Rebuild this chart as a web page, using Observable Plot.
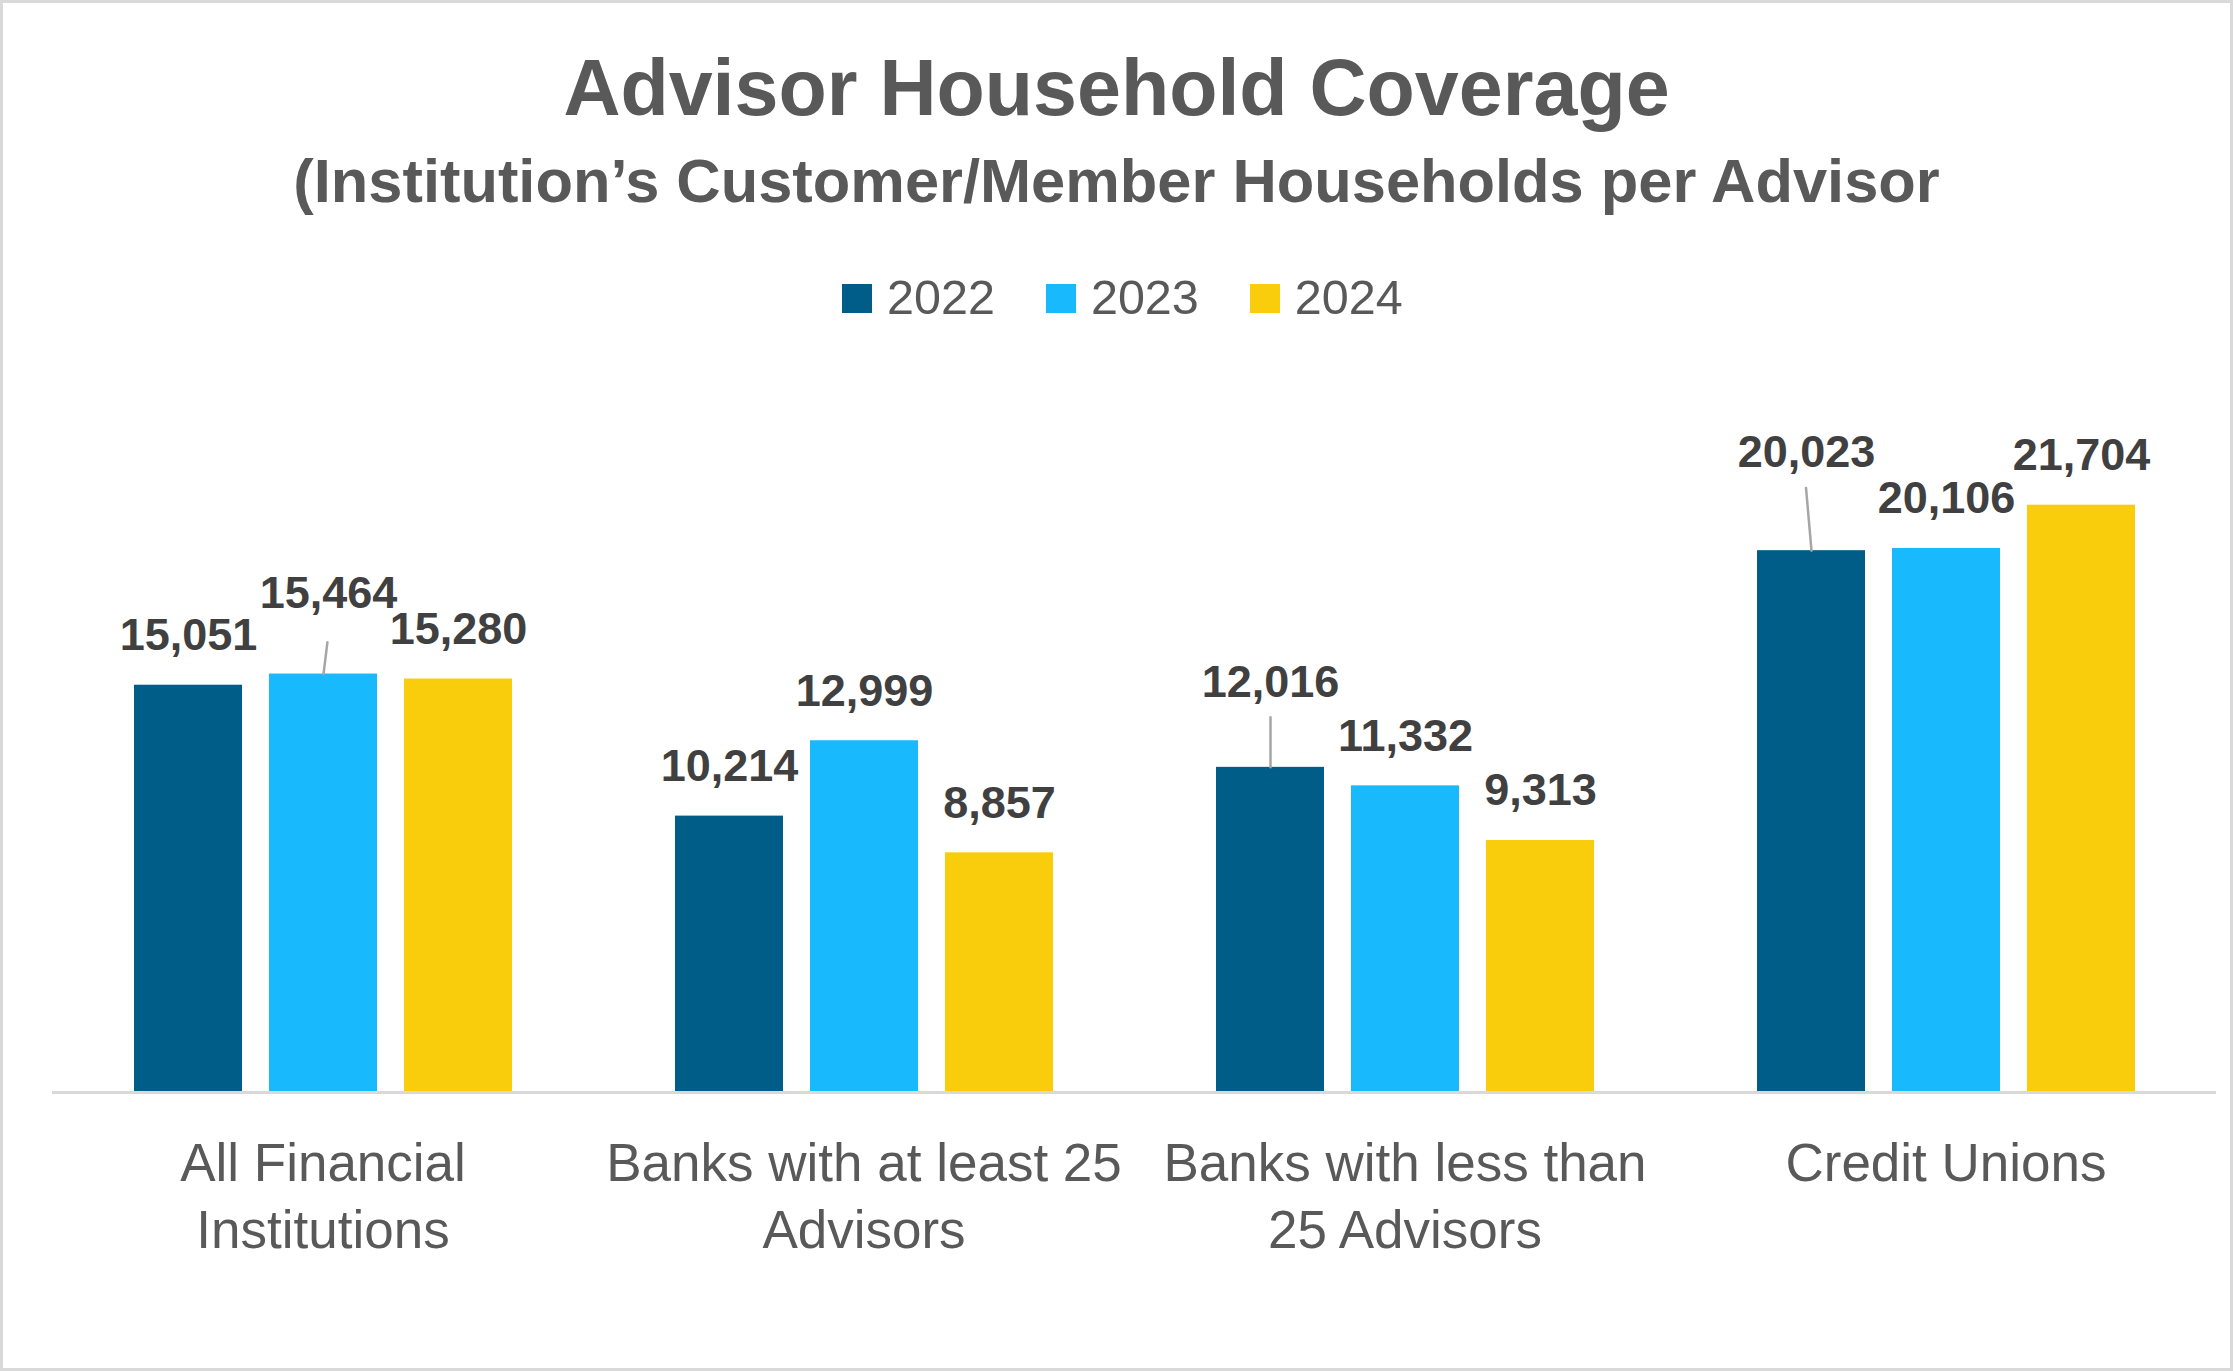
<!DOCTYPE html>
<html>
<head>
<meta charset="utf-8">
<script src="https://cdn.jsdelivr.net/npm/d3@7"></script>
<script src="https://cdn.jsdelivr.net/npm/@observablehq/plot@0.6"></script>
<style>
  html, body { margin: 0; padding: 0; background: #ffffff; }
  #page { position: relative; width: 2233px; height: 1371px; overflow: hidden; background: #ffffff;
          font-family: "Liberation Sans", Arial, sans-serif; }
  #border { position: absolute; left: 0; top: 0; width: 2233px; height: 1371px; box-sizing: border-box;
            border: 3px solid #d9d9d9; pointer-events: none; }
  .t { position: absolute; left: 0; width: 2233px; text-align: center; line-height: 1; color: #595959; white-space: nowrap; }
  #title { top: 48px; font-size: 79px; font-weight: bold; }
  #subtitle { top: 150px; font-size: 61.4px; font-weight: bold; }
  #legend { position: absolute; top: 273px; left: 842px; display: flex; gap: 51px; }
  .item { display: flex; align-items: flex-start; }
  .sw { width: 30px; height: 29px; margin-top: 11px; margin-right: 15px; }
  .lab { font-size: 48.5px; line-height: 1; color: #595959; }
  #chart { position: absolute; left: 0; top: 380px; }
</style>
</head>
<body>
<div id="page">
  <div id="title" class="t">Advisor Household Coverage</div>
  <div id="subtitle" class="t">(Institution’s Customer/Member Households per Advisor</div>
  <div id="legend"></div>
  <div id="chart"></div>
  <div id="border"></div>
</div>
<script>
// ---- data ----
const categories = [
  "All Financial\nInstitutions",
  "Banks with at least 25\nAdvisors",
  "Banks with less than\n25 Advisors",
  "Credit Unions"
];
const years = ["2022", "2023", "2024"];
const values2022 = [15051, 10214, 12016, 20023];
const values2023 = [15464, 12999, 11332, 20106];
const values2024 = [15280, 8857, 9313, 21704];
const seriesColors = ["#005d87", "#18b9fd", "#f9cd0b"];

const series = [values2022, values2023, values2024];
const rows = categories.flatMap((c, i) =>
  years.map((y, j) => ({category: c, year: y, value: series[j][i]}))
);

// labels that were moved by hand in the original, with a leader line
const callouts = [
  {category: categories[0], year: "2023", dx: 5, dy: -66, length: 32, rotate: 7},
  {category: categories[2], year: "2022", dx: 0, dy: -70, length: 50, rotate: 0},
  {category: categories[3], year: "2022", dx: -5, dy: -84, length: 63, rotate: -5}
];
const isCallout = (d) => callouts.some((c) => c.category === d.category && c.year === d.year);

// ---- legend ----
const legend = document.getElementById("legend");
years.forEach((y, j) => {
  const item = document.createElement("div");
  item.className = "item";
  const sw = document.createElement("div");
  sw.className = "sw";
  sw.style.background = seriesColors[j];
  const lab = document.createElement("span");
  lab.className = "lab";
  lab.textContent = y;
  item.append(sw, lab);
  legend.append(item);
});

// ---- chart ----
const fmt = d3.format(",");
const labelStyle = {fill: "#404040", fontWeight: "bold", fontSize: 45, lineAnchor: "bottom"};

const calloutMarks = callouts.flatMap((c) => {
  const sel = rows.filter((d) => d.category === c.category && d.year === c.year);
  return [
    Plot.vector(sel, {fx: "category", x: "year", y: "value", length: c.length, rotate: c.rotate,
      anchor: "start", shape: "arrow", r: 0, stroke: "#a6a6a6", strokeWidth: 2.5}),
    Plot.text(sel, {fx: "category", x: "year", y: "value", text: (d) => fmt(d.value),
      dx: c.dx, dy: c.dy, ...labelStyle})
  ];
});

const chart = Plot.plot({
  width: 2233,
  height: 991,
  marginLeft: 51,
  marginRight: 17,
  marginTop: 35.5,
  marginBottom: 279,
  style: {fontFamily: "'Liberation Sans', Arial, sans-serif", background: "transparent", overflow: "visible"},
  fx: {domain: categories, padding: 0, axis: null, label: null},
  x: {domain: years, paddingInner: 0.2, paddingOuter: 0.6, axis: null, label: null},
  y: {domain: [0, 25000], axis: null, label: null},
  color: {domain: years, range: seriesColors},
  marks: [
    Plot.barY(rows, {fx: "category", x: "year", y: "value", fill: "year"}),
    Plot.ruleY([0], {stroke: "#d9d9d9", strokeWidth: 3}),
    Plot.text(rows.filter((d) => !isCallout(d)), {fx: "category", x: "year", y: "value",
      text: (d) => fmt(d.value), dy: -35, ...labelStyle}),
    ...calloutMarks,
    Plot.text(categories, {fx: (d) => d, text: (d) => d, frameAnchor: "bottom", lineAnchor: "top",
      dy: 41.5, fontSize: 53, lineHeight: 1.26, fill: "#595959"})
  ]
});
document.getElementById("chart").append(chart);
</script>
</body>
</html>
